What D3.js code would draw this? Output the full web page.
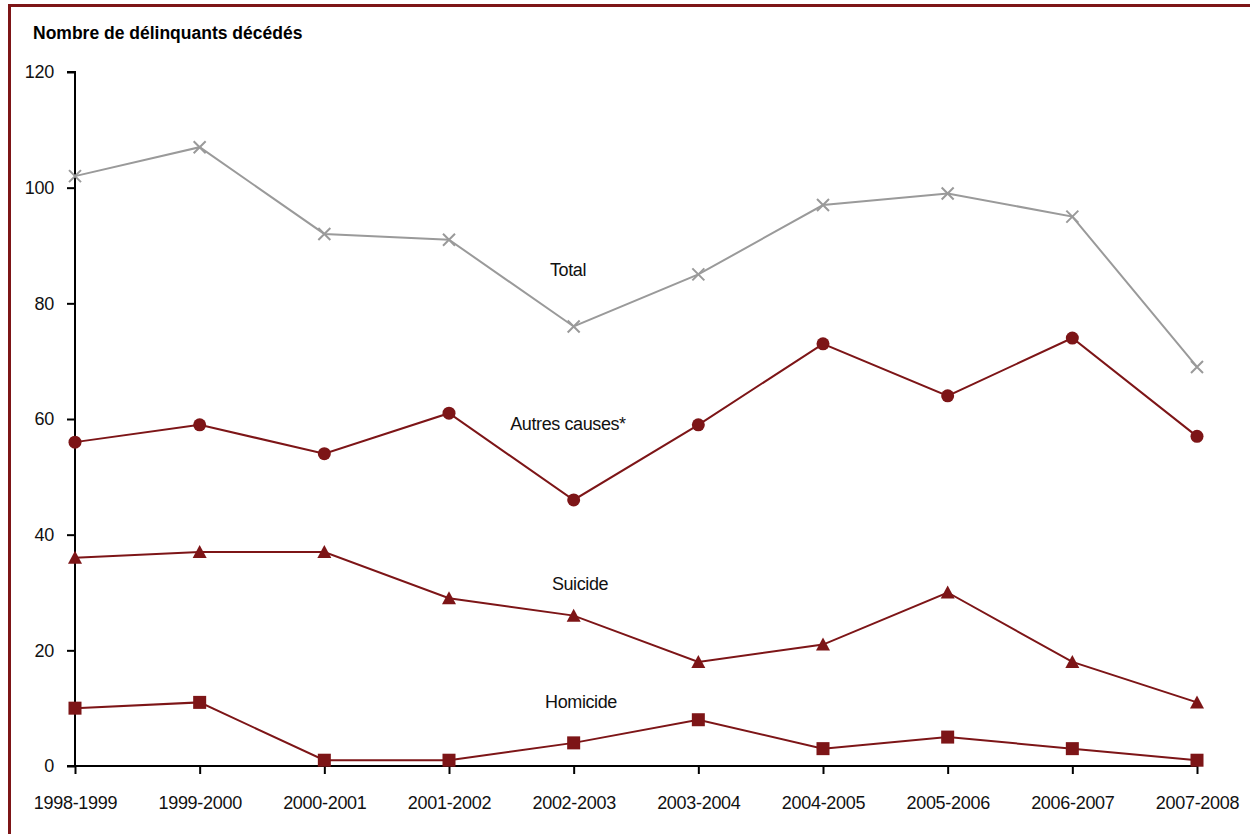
<!DOCTYPE html>
<html><head><meta charset="utf-8">
<script src="https://cdn.jsdelivr.net/npm/d3@7"></script>
<style>body{margin:0;background:#fff}svg{display:block}text{font-family:"Liberation Sans",Arial,sans-serif}</style>
</head><body>
<script>
const categories=["1998-1999","1999-2000","2000-2001","2001-2002","2002-2003","2003-2004","2004-2005","2005-2006","2006-2007","2007-2008"];
const totalValues=[102,107,92,91,76,85,97,99,95,69];
const autresValues=[56,59,54,61,46,59,73,64,74,57];
const suicideValues=[36,37,37,29,26,18,21,30,18,11];
const homicideValues=[10,11,1,1,4,8,3,5,3,1];
const yTicks=[0,20,40,60,80,100,120];
const seriesNames=["Total","Autres causes*","Suicide","Homicide"];

const W=1250,H=834,red="#7d1517",grey="#9a9a9a";
const svg=d3.select("body").append("svg").attr("width",W).attr("height",H);
// frame
svg.append("rect").attr("x",9.5).attr("y",5.5).attr("width",W+20).attr("height",H+20).attr("fill","none").attr("stroke",red).attr("stroke-width",3);

const x=d3.scalePoint().domain(categories).range([75,1197]);
const y=d3.scaleLinear().domain([0,120]).range([766,72]);

svg.append("text").attr("x",33).attr("y",39).attr("font-size",17.5).attr("font-weight","bold").attr("letter-spacing",0).text("Nombre de délinquants décédés");

const ya=svg.append("g").attr("transform","translate(75,0)").call(d3.axisLeft(y).tickValues(yTicks).tickSize(8).tickPadding(13));
const xa=svg.append("g").attr("transform","translate(0,766)").call(d3.axisBottom(x).tickSize(8).tickPadding(22));
[ya,xa].forEach(a=>{a.select(".domain").attr("stroke","#000").attr("stroke-width",2);a.selectAll(".tick line").attr("stroke","#000").attr("stroke-width",2);a.selectAll("text").attr("font-size",18).attr("letter-spacing",-0.3).attr("fill","#111").attr("font-family","Liberation Sans, Arial, sans-serif");});
ya.select(".domain").attr("d","M-8,72H0V766");
xa.select(".domain").attr("d","M67,0H1197");

const line=d3.line().x((d,i)=>x(categories[i])).y(d=>y(d));
const series=[
 {name:seriesNames[0],vals:totalValues,color:grey,marker:"x",lx:568,ly:270},
 {name:seriesNames[1],vals:autresValues,color:red,marker:"circle",lx:568,ly:424},
 {name:seriesNames[2],vals:suicideValues,color:red,marker:"tri",lx:580,ly:584},
 {name:seriesNames[3],vals:homicideValues,color:red,marker:"sq",lx:581,ly:702}
];
series.forEach(s=>{
  svg.append("path").datum(s.vals).attr("d",line).attr("fill","none").attr("stroke",s.color).attr("stroke-width",2);
  const g=svg.append("g");
  s.vals.forEach((v,i)=>{
    const cx=x(categories[i]),cy=y(v);
    if(s.marker==="circle") g.append("circle").attr("cx",cx).attr("cy",cy).attr("r",6.5).attr("fill",red);
    else if(s.marker==="sq") g.append("rect").attr("x",cx-6.5).attr("y",cy-6.5).attr("width",13).attr("height",13).attr("fill",red);
    else if(s.marker==="tri") g.append("path").attr("d",`M${cx},${cy-7}L${cx+7},${cy+6}L${cx-7},${cy+6}Z`).attr("fill",red);
    else g.append("path").attr("d",`M${cx-6},${cy-6}L${cx+6},${cy+6}M${cx-6},${cy+6}L${cx+6},${cy-6}`).attr("stroke",grey).attr("stroke-width",2);
  });
  svg.append("text").attr("x",s.lx).attr("y",s.ly).attr("dy","0.35em").attr("text-anchor","middle").attr("font-size",18).attr("letter-spacing",-0.4).attr("fill","#111").text(s.name);
});
</script>
</body></html>
